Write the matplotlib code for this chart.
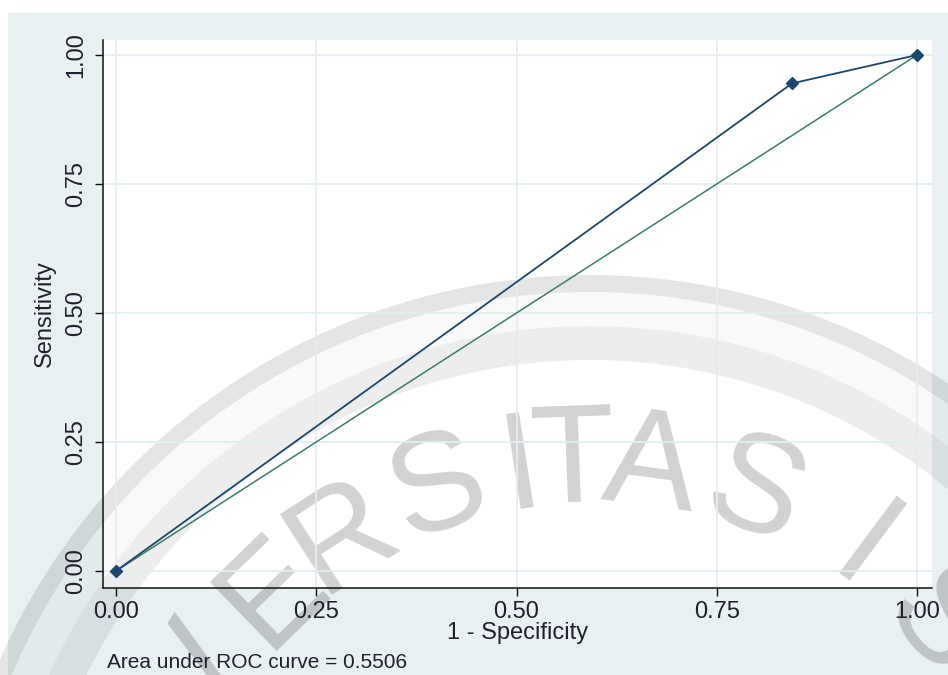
import numpy as np
import matplotlib.pyplot as plt
from matplotlib.patches import Rectangle, Wedge

plt.rcParams['font.family'] = ['Liberation Sans', 'DejaVu Sans']

# ROC points (1 - specificity, sensitivity)
fpr = [0.0, 0.844, 1.0]
tpr = [0.0, 0.945, 1.0]
ref_x = [0.0, 1.0]
ref_y = [0.0, 1.0]
ticks = [0.0, 0.25, 0.5, 0.75, 1.0]
tick_labels = ['0.00', '0.25', '0.50', '0.75', '1.00']
auc_text = 'Area under ROC curve = 0.5506'

# watermark letters along the arc (letter, angle in degrees)
wm_letters = ['V', 'E', 'R', 'S', 'I', 'T', 'A', 'S', 'I', 'S']
wm_angles = [148.4, 134.1, 122.8, 109.4, 98.8, 92.1, 82.4, 68.8, 53.3, 40.3]

W, H = 948, 675
fig = plt.figure(figsize=(W / 100, H / 100), dpi=100)
fig.patch.set_facecolor('white')

# background + watermark, drawn in pixel coordinates
bg = fig.add_axes([0, 0, 1, 1], zorder=0)
bg.set_xlim(0, W)
bg.set_ylim(H, 0)
bg.axis('off')
left, right, top, bottom = 103, 932, 40, 588
bg.add_patch(Rectangle((8, 13), W - 8, H - 13, color='#e8f0f2', lw=0))
bg.add_patch(Rectangle((left, top), right - left, bottom - top, color='white', lw=0))

cx, cy = 590, 920
bg.add_patch(Wedge((cx, cy), 645, 0, 360, width=17, color='black', alpha=0.10, lw=0))
bg.add_patch(Wedge((cx, cy), 594, 0, 360, width=34, color='black', alpha=0.07, lw=0))
bg.add_patch(Wedge((cx, cy), 628, 0, 360, width=34, color='black', alpha=0.025, lw=0))
r = 455
for ch, a in zip(wm_letters, wm_angles):
    t = np.deg2rad(a)
    bg.text(cx + r * np.cos(t), cy - r * np.sin(t), ch, fontsize=100,
            color='black', alpha=0.18, rotation=a - 90, rotation_mode='anchor',
            ha='center', va='center')

# main plot
ax = fig.add_axes([left / W, 1 - bottom / H, (right - left) / W, (bottom - top) / H], zorder=1)
ax.set_facecolor('none')
ax.set_xlim(-13 / 801, 1 + 15 / 801)
ax.set_ylim(-17 / 516, 1 + 15 / 516)

ax.grid(True, color='#e3edf1', lw=1.3)
ax.set_axisbelow(True)

ax.plot(ref_x, ref_y, color='#3a7d6c', lw=1.1, zorder=2)
ax.plot(fpr, tpr, color='#1a476f', lw=1.3, marker='D', markersize=6.5, zorder=3)

for s in ['top', 'right']:
    ax.spines[s].set_visible(False)
for s in ['left', 'bottom']:
    ax.spines[s].set_linewidth(1.1)
    ax.spines[s].set_color('#111111')

ax.set_xticks(ticks)
ax.set_xticklabels(tick_labels)
ax.set_yticks(ticks)
ax.set_yticklabels(tick_labels)
ax.tick_params(direction='out', length=5.5, width=1, color='#111111',
               labelsize=17, labelcolor='#20202e')
ax.tick_params(axis='x', pad=4)
ax.tick_params(axis='y', labelrotation=90, pad=6)
for lbl in ax.get_yticklabels():
    lbl.set_va('center')

ax.set_xlabel('1 - Specificity', fontsize=17, color='#20202e', va='center')
ax.xaxis.set_label_coords(0.5, -0.082)
ax.set_ylabel('Sensitivity', fontsize=17, color='#20202e', va='center')
ax.yaxis.set_label_coords(-0.07, 0.5)

fig.text(107 / W, 1 - 663 / H, auc_text, fontsize=15, color='#20202e', va='center')

fig.savefig('out.png', dpi=100)
